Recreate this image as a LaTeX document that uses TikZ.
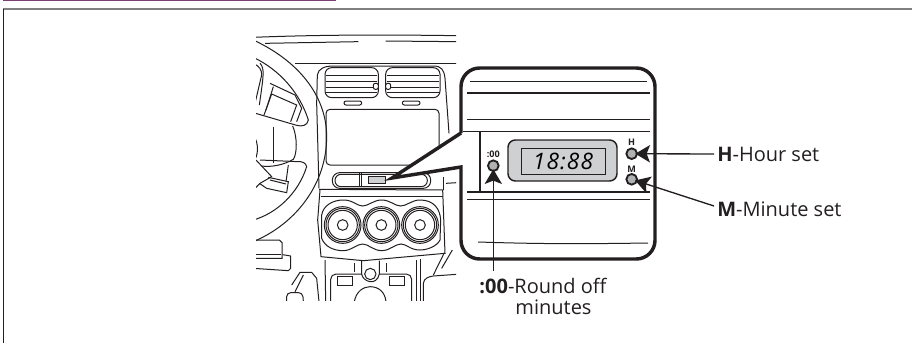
\documentclass[tikz,border=0pt]{standalone}
\usepackage{fontspec}
\setmainfont{Open Sans}
\usetikzlibrary{arrows.meta}
\definecolor{inkdark}{HTML}{231F20}
\definecolor{panelgray}{HTML}{CFD0D2}
\definecolor{rulegray}{HTML}{808080}
\definecolor{tabpurple}{HTML}{7B3F73}
\tikzset{
  art/.style={draw=inkdark,line width=.75pt},
  calloutline/.style={draw=inkdark,line width=2.6pt,fill=white,line join=miter},
  btn/.style={circle,draw=inkdark,line width=1.4pt,fill=panelgray!85!black,minimum size=8pt,inner sep=0pt},
  btnmark/.style={font=\bfseries\fontsize{6.8}{7}\selectfont,text=inkdark,inner sep=0pt},
  callabel/.style={font=\fontsize{15}{15.75}\selectfont,text=inkdark,inner sep=0pt},
  pointer/.style={draw=inkdark,line width=1pt,shorten >=-2pt,-{Stealth[length=11pt,width=13pt,inset=2.5pt]}}
}
\begin{document}
\begin{tikzpicture}[x=.75pt,y=-.75pt]
\useasboundingbox (0,0) rectangle (912,343);
\fill [tabpurple] (3,0) rectangle (336,1);
\draw [rulegray,line width=1.4pt] (3,9) -- (912,9);
\draw [inkdark,line width=.5pt] (3,9) -- (3,343);
\begin{scope}
\clip (256,20) rectangle (456,300);
\begin{scope}[shift={(220,20)},x=.25pt,y=-.25pt]
\draw [art] (100,52) .. controls (300,44) and (500,44) .. (710,47);
\draw [art] (135,70) -- (415,65);
\draw [art] (497,63) -- (710,65);
\draw [art] (225,130) -- (710,130);
\draw [art] (100,60) .. controls (250,130) and (320,240) .. (320,350) .. controls (320,490) and (230,610) .. (100,665);
\draw [art] (100,112) .. controls (180,150) and (240,220) .. (265,300) .. controls (262,318) and (245,320) .. (230,316) -- (100,278);
\draw [art] (100,600) .. controls (170,580) and (235,520) .. (260,440) .. controls (258,428) and (245,424) .. (235,425) -- (120,420);
\draw [art] (100,130) .. controls (120,140) and (125,150) .. (125,165) -- (105,250);
\draw [art] (120,130) .. controls (135,145) and (130,170) .. (118,255);
\draw [art] (150,190) -- (225,225) -- (245,265) -- (230,305);
\draw [art] (155,222) -- (230,255) -- (212,305);
\draw [art] (155,222) -- (132,285);
\draw [art] (160,200) -- (138,270);
\draw [art] (218,318) .. controls (232,350) and (232,400) .. (220,418) .. controls (190,436) and (150,442) .. (125,438);
\draw [art] (160,320) -- (160,430);
\draw [art] (100,345) .. controls (118,370) and (115,410) .. (100,425);
\draw [art] (108,420) -- (155,470) -- (120,490) -- (100,510);
\draw [art] (145,472) -- (205,485) -- (200,518) -- (140,505) -- (118,490);
\draw [art] (150,480) -- (198,492);
\draw [art] (205,435) -- (198,485);
\draw [art] (297,505) -- (290,250) -- (292,165) .. controls (295,145) and (315,138) .. (340,138) -- (640,138) .. controls (665,138) and (672,150) .. (675,175) -- (687,340);
\draw [art,rounded corners=5pt] (315,143) -- (475,143) -- (475,233) -- (315,233) -- cycle;
\draw [art,rounded corners=5pt] (497,143) -- (660,143) -- (660,233) -- (497,233) -- cycle;
\foreach \slatpos in {165,185,202,218} {
  \draw [art] (318,\slatpos) -- (472,\slatpos);
  \draw [art] (500,\slatpos) -- (657,\slatpos);
}
\draw [art,fill=white,rounded corners=1.5pt] (460,190) rectangle (475,208);
\draw [art,fill=white,rounded corners=1.5pt] (497,190) rectangle (512,208);
\draw [art,rounded corners=1.5pt] (372,243) rectangle (425,255);
\draw [art,rounded corners=1.5pt] (547,243) rectangle (600,255);
\draw [art,rounded corners=3pt] (318,268) rectangle (657,435);
\draw [art,rounded corners=5.5pt] (337,458) rectangle (632,505);
\draw [art,rounded corners=4.5pt] (345,463) rectangle (622,500);
\draw [art] (418,460) -- (418,502);
\draw [art] (423,460) -- (423,502);
\draw [art,fill=panelgray,line width=1pt] (445,470) rectangle (497,490);
\draw [art] (670,470) -- (670,510);
\draw [art] (297,508) -- (670,510);
\draw [art] (303,530) -- (668,530);
\draw [art] (300,510) -- (293,600) -- (303,710) -- (430,722) -- (675,700) -- (668,510);
\draw [art] (305,585) .. controls (310,555) and (340,540) .. (370,540) .. controls (400,540) and (410,558) .. (428,558) .. controls (445,558) and (460,540) .. (485,540) .. controls (510,540) and (525,558) .. (542,558) .. controls (560,558) and (575,540) .. (600,540) .. controls (640,540) and (660,565) .. (662,600) -- (660,660) .. controls (650,680) and (620,690) .. (600,690) .. controls (570,690) and (560,672) .. (543,672) .. controls (525,672) and (510,692) .. (485,692) .. controls (460,692) and (445,672) .. (428,672) .. controls (410,672) and (395,692) .. (370,692) .. controls (340,692) and (315,680) .. (305,655) -- cycle;
\foreach \knobx in {368,484,600} {
  \draw [art] (\knobx,615) circle [radius=55];
  \draw [art] (\knobx,615) circle [radius=50];
  \draw [art] (\knobx,615) circle [radius=44];
  \draw [art] (\knobx,615) circle [radius=16];
}
\draw [art] (315,720) -- (317,845);
\draw [art] (590,720) -- (590,845);
\draw [art] (601,718) -- (601,845);
\draw [art,rounded corners=4pt] (332,845) -- (332,762) -- (425,762);
\draw [art,rounded corners=4pt] (478,762) -- (575,762) -- (575,845);
\draw [art] (352,770) rectangle (397,795);
\draw [art] (507,770) rectangle (552,795);
\draw [art] (402,730) -- (402,755);
\draw [art] (500,730) -- (500,755);
\draw [art] (425,722) -- (425,762) .. controls (428,785) and (470,800) .. (478,762) -- (478,722);
\draw [art] (451,762) circle [radius=17];
\draw [art] (403,845) .. controls (408,815) and (430,800) .. (450,800) .. controls (475,800) and (495,815) .. (498,845);
\draw [art] (100,660) -- (178,660) -- (186,668) -- (186,715) -- (100,715);
\draw [art] (100,703) -- (182,703);
\draw [art] (100,745) -- (205,752) -- (212,745) -- (212,708) -- (188,704);
\draw [art] (215,795) -- (240,757) -- (275,757) -- (290,775) -- (297,845);
\draw [art] (250,765) -- (225,815);
\draw [art,rounded corners=3pt] (200,845) -- (200,818) -- (248,818) -- (250,845);
\draw [art] (610,845) -- (610,790) .. controls (612,775) and (625,770) .. (640,768) -- (710,763);
\draw [art] (672,700) -- (640,765);
\draw [art] (697,690) -- (665,745);
\draw [art] (678,490) -- (710,488);
\end{scope}
\end{scope}
\draw [calloutline] (461,133) -- (392,178) -- (461,167) [rounded corners=14pt] -- (461,259) -- (655,259) -- (655,68) -- (461,68) -- (461,133);
\draw [art] (470,81.7) -- (647,81.7);
\draw [art,line width=.9pt] (467,93) -- (650,93);
\draw [art] (467,119) -- (650,119);
\draw [art,line width=1.1pt] (463,131.7) -- (650,131.7);
\draw [art,line width=1pt] (480,132) -- (480,192);
\draw [art,line width=1.1pt] (467,192) -- (650,192);
\draw [art] (467,199) -- (650,199);
\draw [art] (478,242) .. controls (540,244) and (580,244) .. (648,243);
\draw [art,line width=1.1pt,fill=panelgray,rounded corners=5.5pt] (508,140) rectangle (617,181);
\draw [art,line width=.6pt] (521,148) rectangle (605,174);
\node (clockface) at (563,161) {\itshape\fontsize{17}{19}\selectfont\addfontfeature{LetterSpace=5}18:88};
\node [btnmark] (markhour) at (631.7,142.7) {H};
\node [btnmark] (markminute) at (631.7,169) {M};
\node [btnmark] (markzero) at (493.3,154) {:00};
\node [btn] (hourbtn) at (631.7,153.7) {};
\node [btn] (minutebtn) at (631.7,179.3) {};
\node [btn] (zerobtn) at (493.3,165.7) {};
\node [callabel,anchor=west] (hourtext) at (717,154) {\textbf{H}-Hour set};
\node [callabel,anchor=west] (minutetext) at (717,209) {\textbf{M}-Minute set};
\node [callabel,align=center,anchor=north] (zerotext) at (543,278) {\textbf{:00}-Round off\\\hspace*{15.75pt}minutes};
\coordinate (hourend) at (714,154);
\coordinate (minuteend) at (714,206);
\coordinate (zeroend) at (493.3,271);
\draw [pointer] (hourend) -- (hourbtn);
\draw [pointer] (minuteend) -- (minutebtn);
\draw [pointer] (zeroend) -- (zerobtn);
\end{tikzpicture}
\end{document}
